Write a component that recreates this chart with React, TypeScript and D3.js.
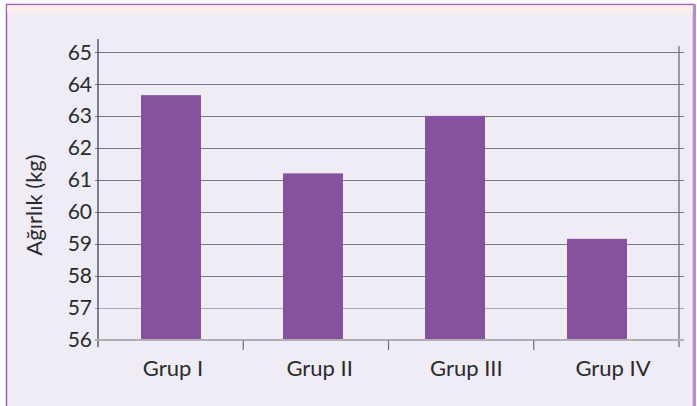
import { useEffect, useRef } from 'react';
import * as d3 from 'd3';

const categories = ['Grup I', 'Grup II', 'Grup III', 'Grup IV'];
const weights = [63.65, 61.2, 63.0, 59.15];
const yTicks = [56, 57, 58, 59, 60, 61, 62, 63, 64, 65];
const yTitle = 'Ağırlık (kg)';

const WIDTH = 697;
const HEIGHT = 406;
const FONT = 'Lato, "Open Sans", sans-serif';

export default function App() {
  const svgRef = useRef<SVGSVGElement>(null);

  useEffect(() => {
    const svg = svgRef.current;
    if (!svg) return;
    const sel = d3.select(svg);
    sel.selectAll('*').remove();

    const left = 98;
    const right = 679;
    // the original places bars and labels slightly off the category centres
    const xBar = d3.scalePoint().domain(categories).range([171, 597]);
    const xLabel = d3.scalePoint().domain(categories).range([173, 613]);
    const barWidth = 60;
    const y = d3.scaleLinear().domain([56, 65]).range([339.5, 52]);

    // panel
    sel.append('rect').attr('x', 0).attr('y', 0).attr('width', WIDTH).attr('height', HEIGHT).attr('fill', '#ffffff');
    sel.append('rect')
      .attr('x', 6.5).attr('y', 4.5).attr('width', 687).attr('height', 420)
      .attr('fill', '#efecf5').attr('stroke', '#a45cbd').attr('stroke-width', 1.5);
    sel.append('rect').attr('x', 7.3).attr('y', 5.3).attr('width', 685.4).attr('height', 8).attr('fill', '#fcefeb');
    sel.append('rect').attr('x', 693).attr('y', 4).attr('width', 3).attr('height', HEIGHT).attr('fill', '#b78fc8');

    // gridlines
    sel.append('g')
      .selectAll('line')
      .data(yTicks.filter((t) => t > 56))
      .join('line')
      .attr('x1', left - 3).attr('x2', right + 5)
      .attr('y1', (d) => Math.round(y(d)) + 0.5).attr('y2', (d) => Math.round(y(d)) + 0.5)
      .attr('stroke', (d) => (d <= 57 ? '#a9a7ad' : '#78777c'))
      .attr('stroke-width', 1.2);

    // y axis
    sel.append('line').attr('x1', left).attr('x2', left).attr('y1', 39).attr('y2', 347)
      .attr('stroke', '#3a3a3a').attr('stroke-width', 1.2);
    sel.append('line').attr('x1', right).attr('x2', right).attr('y1', 46).attr('y2', 347)
      .attr('stroke', '#7a797e').attr('stroke-width', 1.4);

    // bars
    sel.append('g')
      .selectAll('rect')
      .data(weights)
      .join('rect')
      .attr('x', (_, i) => (xBar(categories[i]) ?? 0) - barWidth / 2)
      .attr('width', barWidth)
      .attr('y', (d) => y(d))
      .attr('height', (d) => y(56) - y(d))
      .attr('fill', '#87519e');

    // baseline and category ticks
    sel.append('line').attr('x1', left - 3).attr('x2', right + 5).attr('y1', y(56) + 0.5).attr('y2', y(56) + 0.5)
      .attr('stroke', '#b1afb4').attr('stroke-width', 2);
    const step = (right - left) / categories.length;
    sel.append('g')
      .selectAll('line')
      .data(d3.range(1, categories.length))
      .join('line')
      .attr('x1', (d) => left + d * step).attr('x2', (d) => left + d * step)
      .attr('y1', y(56) + 1).attr('y2', 350)
      .attr('stroke', '#6e6d72').attr('stroke-width', 1.2);

    // tick labels
    sel.append('g')
      .selectAll('text')
      .data(yTicks)
      .join('text')
      .attr('x', 92).attr('y', (d) => y(d))
      .attr('dy', '0.36em')
      .attr('text-anchor', 'end')
      .attr('font-family', FONT).attr('font-size', 21).attr('fill', '#2b2b2b')
      .text((d) => d);

    sel.append('g')
      .selectAll('text')
      .data(categories)
      .join('text')
      .attr('x', (d) => xLabel(d) ?? 0)
      .attr('y', 376)
      .attr('text-anchor', 'middle')
      .attr('font-family', FONT).attr('font-size', 22).attr('fill', '#2b2b2b')
      .text((d) => d);

    sel.append('text')
      .attr('transform', `translate(42, 205) rotate(-90)`)
      .attr('text-anchor', 'middle')
      .attr('font-family', FONT).attr('font-size', 22).attr('fill', '#2b2b2b')
      .text(yTitle);
  }, []);

  return (
    <div style={{ position: 'fixed', left: 0, top: 0 }}>
      <svg ref={svgRef} width={WIDTH} height={HEIGHT} style={{ display: 'block' }} />
    </div>
  );
}
